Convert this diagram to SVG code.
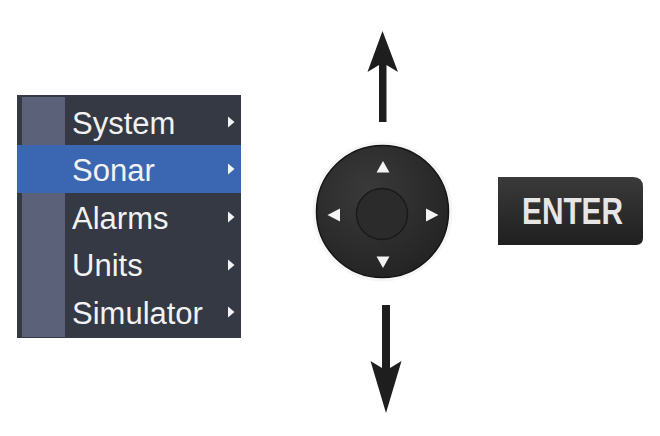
<svg xmlns="http://www.w3.org/2000/svg" width="660" height="436" viewBox="0 0 660 436">
<defs>
<style>
.item{font-family:"Liberation Sans",Arial,sans-serif;font-size:31px;fill:#f2f2f2}
.tri{fill:#f4f4f4}
.arrow{fill:#1e1e1e}
</style>
<radialGradient id="pad" cx="40%" cy="35%" r="70%">
<stop offset="0" stop-color="#3a3a3a"/>
<stop offset="1" stop-color="#232323"/>
</radialGradient>
<linearGradient id="btn" x1="0" y1="0" x2="0" y2="1">
<stop offset="0" stop-color="#3a3a3a"/>
<stop offset="1" stop-color="#1f1f1f"/>
</linearGradient>
</defs>
<rect width="660" height="436" fill="#ffffff"/>
<g id="menu">
<rect x="17" y="95" width="224" height="243" fill="#343943"/>
<rect x="22" y="97" width="43" height="240" fill="#5b6179"/>
<rect x="17" y="145" width="224" height="48" fill="#3b66b1"/>
<text class="item" x="72" y="134">System</text>
<text class="item" x="72" y="181">Sonar</text>
<text class="item" x="72" y="229">Alarms</text>
<text class="item" x="72" y="276">Units</text>
<text class="item" x="72" y="324">Simulator</text>
<path class="tri" d="M228 116.5 L234.5 122 L228 127.5 Z"/>
<path class="tri" d="M228 163.5 L234.5 169 L228 174.5 Z"/>
<path class="tri" d="M228 211.5 L234.5 217 L228 222.5 Z"/>
<path class="tri" d="M228 259.5 L234.5 265 L228 270.5 Z"/>
<path class="tri" d="M228 306.5 L234.5 312 L228 317.5 Z"/>
</g>
<g id="dpad">
<circle cx="382.5" cy="211.5" r="70" fill="#f6f6f6"/>
<circle cx="382.5" cy="211.5" r="66" fill="url(#pad)" stroke="#151515" stroke-width="1.5"/>
<circle cx="382" cy="214" r="25.5" fill="#2b2b2b" stroke="#1a1a1a" stroke-width="1.5"/>
<path class="tri" d="M383 161 L389.5 172.5 L376.5 172.5 Z"/>
<path class="tri" d="M383 268 L376.5 256.5 L389.5 256.5 Z"/>
<path class="tri" d="M327.5 215 L340 208.5 L340 221.5 Z"/>
<path class="tri" d="M438.5 215 L426 208.5 L426 221.5 Z"/>
</g>
<g id="enter">
<path d="M498 177 L633 177 Q643 177 643 187 L643 238 Q643 245 636 245 L498 245 Z" fill="url(#btn)"/>
<text x="522" y="223.5" textLength="101" lengthAdjust="spacingAndGlyphs" font-family="Liberation Sans,Arial,sans-serif" font-weight="bold" font-size="36" fill="#e6e6e6">ENTER</text>
</g>
<g id="connectors">
<path class="arrow" d="M382.5 31 L398 72 L386.5 65 L386.5 122 L379 122 L379 65 L367.5 72 Z"/>
<path class="arrow" d="M386 413 L370.5 361 L382 368 L382 305 L390 305 L390 368 L401.5 361 Z"/>
</g>
</svg>
